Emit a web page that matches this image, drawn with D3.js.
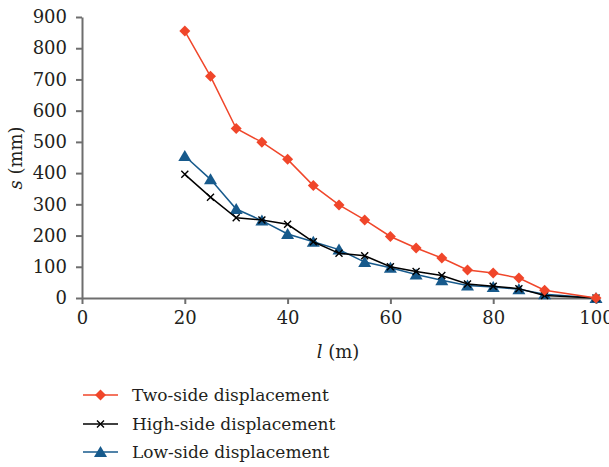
<!DOCTYPE html>
<html><head><meta charset="utf-8">
<script src="https://cdn.jsdelivr.net/npm/d3@7"></script>
<style>
body{margin:0;background:#fff;}
svg text{font-family:"DejaVu Serif","Liberation Serif",serif;fill:#231f20;}
</style></head>
<body><svg id="c" width="609" height="467"></svg>
<script>
const lengths = [20,25,30,35,40,45,50,55,60,65,70,75,80,85,90,100];
const twoSide = [855,710,543,499,444,360,298,250,197,160,128,90,80,64,25,0];
const highSide = [396,323,257,250,236,180,143,135,100,85,72,45,38,30,8,0];
const lowSide = [455,380,285,248,205,180,155,115,97,75,57,40,35,28,12,0];
const xTicks = [0,20,40,60,80,100];
const yTicks = [0,100,200,300,400,500,600,700,800,900];
const seriesNames = ["Two-side displacement","High-side displacement","Low-side displacement"];
const seriesColors = ["#f0462a","#000000","#175a8c"];
const seriesMarkers = ["diamond","cross","triangle"];

const svg = d3.select("#c");
const x = d3.scaleLinear().domain([0,100]).range([82,596]);
const y = d3.scaleLinear().domain([0,900]).range([298,17]);
const axisColor = "#6e6e6e";
const fs = 18;

const gx = svg.append("g").attr("transform","translate(0,298)")
  .call(d3.axisBottom(x).tickValues(xTicks).tickSize(6).tickPadding(7).tickSizeOuter(0));
const gy = svg.append("g").attr("transform","translate(82,0)")
  .call(d3.axisLeft(y).tickValues(yTicks).tickSize(6).tickPadding(9).tickSizeOuter(0));
[gx,gy].forEach(g=>{
  g.attr("font-family",null);
  g.selectAll("path,line").attr("stroke",axisColor).attr("stroke-width",2);
  g.selectAll("text").attr("font-size",fs).attr("fill","#231f20");
});

// axis titles
const xt = svg.append("text").attr("x",338).attr("y",358).attr("text-anchor","middle").attr("font-size",fs);
xt.append("tspan").attr("font-style","italic").text("l");
xt.append("tspan").text(" (m)");
const yt = svg.append("text").attr("transform","translate(22,158) rotate(-90)").attr("text-anchor","middle").attr("font-size",fs);
yt.append("tspan").attr("font-style","italic").text("s");
yt.append("tspan").text(" (mm)");

const datasets = [twoSide, highSide, lowSide];
function drawMarker(g, type, cx, cy, color){
  if(type==="diamond"){
    g.append("path").attr("d",`M${cx},${cy-5.5}L${cx+5.5},${cy}L${cx},${cy+5.5}L${cx-5.5},${cy}Z`).attr("fill",color);
  } else if(type==="cross"){
    g.append("path").attr("d",`M${cx-3.5},${cy-3.5}L${cx+3.5},${cy+3.5}M${cx-3.5},${cy+3.5}L${cx+3.5},${cy-3.5}`).attr("stroke",color).attr("stroke-width",1.4);
  } else {
    g.append("path").attr("d",`M${cx},${cy-6}L${cx+6.5},${cy+5}L${cx-6.5},${cy+5}Z`).attr("fill",color);
  }
}
const line = d3.line().x((d,i)=>x(lengths[i])).y(d=>y(d));
[2,1,0].forEach(k=>{
  const g = svg.append("g");
  g.append("path").datum(datasets[k]).attr("d",line).attr("fill","none").attr("stroke",seriesColors[k]).attr("stroke-width",1.5);
  datasets[k].forEach((v,i)=>drawMarker(g, seriesMarkers[k], x(lengths[i]), y(v), seriesColors[k]));
});

// legend
const legY = [395,424,452];
seriesNames.forEach((n,k)=>{
  const g = svg.append("g");
  g.append("line").attr("x1",83).attr("x2",118).attr("y1",legY[k]).attr("y2",legY[k]).attr("stroke",seriesColors[k]).attr("stroke-width",1.5);
  drawMarker(g, seriesMarkers[k], 100.5, legY[k], seriesColors[k]);
  g.append("text").attr("x",132).attr("y",legY[k]+6).attr("font-size",17).text(n);
});
</script></body></html>
